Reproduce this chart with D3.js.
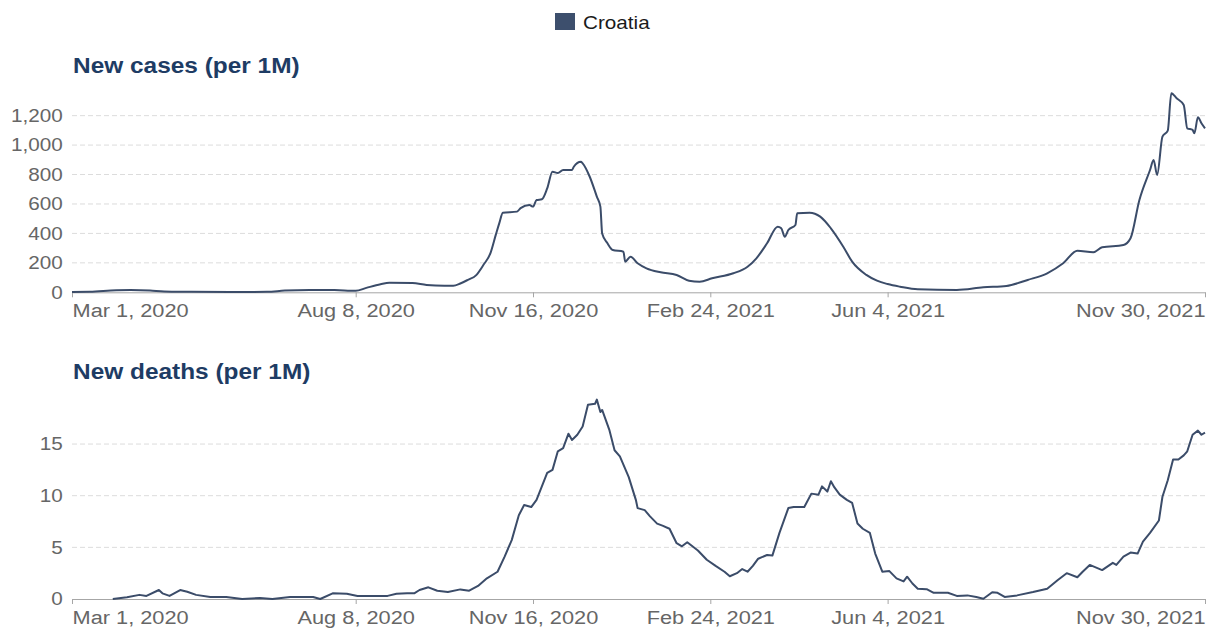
<!DOCTYPE html>
<html>
<head>
<meta charset="utf-8">
<script src="https://cdn.jsdelivr.net/npm/d3@7"></script>
<style>
  html, body { margin: 0; padding: 0; background: #fff; }
  svg { display: block; font-family: "Liberation Sans", Arial, sans-serif; }
</style>
</head>
<body>
<svg id="chart" width="1213" height="633"></svg>
<script>
// ---------- DATA ----------
const country = "Croatia";
const casesTitle = "New cases (per 1M)";
const deathsTitle = "New deaths (per 1M)";

const casesDates = ["2020-03-01","2020-03-11","2020-03-26","2020-04-03","2020-04-14","2020-04-22","2020-05-06","2020-05-29","2020-06-19","2020-06-29","2020-07-13","2020-07-27","2020-08-08","2020-08-14","2020-08-22","2020-08-27","2020-09-09","2020-09-17","2020-09-27","2020-10-02","2020-10-06","2020-10-10","2020-10-15","2020-10-19","2020-10-23","2020-10-26","2020-10-28","2020-10-30","2020-11-07","2020-11-09","2020-11-14","2020-11-16","2020-11-18","2020-11-21","2020-11-24","2020-11-27","2020-11-30","2020-12-03","2020-12-08","2020-12-09","2020-12-13","2020-12-14","2020-12-18","2020-12-22","2020-12-24","2020-12-25","2020-12-28","2020-12-31","2021-01-06","2021-01-07","2021-01-10","2021-01-14","2021-01-19","2021-01-27","2021-02-05","2021-02-12","2021-02-18","2021-02-25","2021-03-09","2021-03-17","2021-03-22","2021-03-28","2021-04-03","2021-04-05","2021-04-07","2021-04-09","2021-04-13","2021-04-14","2021-04-21","2021-04-27","2021-05-03","2021-05-10","2021-05-15","2021-05-23","2021-05-29","2021-06-04","2021-06-11","2021-06-21","2021-07-13","2021-07-28","2021-08-10","2021-08-22","2021-09-02","2021-09-11","2021-09-19","2021-09-28","2021-10-03","2021-10-15","2021-10-19","2021-10-24","2021-10-30","2021-11-01","2021-11-03","2021-11-06","2021-11-09","2021-11-11","2021-11-14","2021-11-18","2021-11-20","2021-11-23","2021-11-24","2021-11-26","2021-11-28","2021-11-30"];
const casesValues = [2,3,14,15,12,6,4,2,3,12,16,15,10,30,55,65,63,50,45,45,60,83,117,185,266,390,470,540,548,572,593,582,627,632,706,819,810,831,831,853,887,876,785,650,582,400,333,287,276,208,242,197,163,136,118,79,72,95,129,174,231,333,446,435,378,423,457,537,541,514,435,310,208,118,79,56,38,20,16,34,43,84,129,197,283,272,306,321,367,627,831,899,797,1057,1098,1352,1318,1272,1114,1103,1080,1189,1148,1114];

const deathsDates = ["2020-03-24","2020-04-01","2020-04-08","2020-04-12","2020-04-19","2020-04-21","2020-04-25","2020-05-01","2020-05-05","2020-05-10","2020-05-18","2020-05-27","2020-06-05","2020-06-15","2020-06-22","2020-07-02","2020-07-15","2020-07-19","2020-07-26","2020-08-03","2020-08-09","2020-08-18","2020-08-26","2020-08-31","2020-09-06","2020-09-10","2020-09-13","2020-09-18","2020-09-23","2020-09-29","2020-10-06","2020-10-11","2020-10-16","2020-10-21","2020-10-27","2020-10-31","2020-11-04","2020-11-08","2020-11-11","2020-11-15","2020-11-18","2020-11-21","2020-11-24","2020-11-27","2020-11-30","2020-12-03","2020-12-06","2020-12-08","2020-12-11","2020-12-14","2020-12-17","2020-12-21","2020-12-22","2020-12-24","2020-12-25","2020-12-29","2021-01-01","2021-01-04","2021-01-09","2021-01-13","2021-01-14","2021-01-18","2021-01-21","2021-01-25","2021-01-28","2021-02-01","2021-02-05","2021-02-08","2021-02-11","2021-02-17","2021-02-22","2021-02-27","2021-03-04","2021-03-07","2021-03-11","2021-03-14","2021-03-17","2021-03-20","2021-03-23","2021-03-28","2021-03-31","2021-04-04","2021-04-09","2021-04-12","2021-04-16","2021-04-18","2021-04-22","2021-04-26","2021-04-28","2021-05-01","2021-05-03","2021-05-05","2021-05-08","2021-05-12","2021-05-15","2021-05-18","2021-05-21","2021-05-25","2021-05-28","2021-06-01","2021-06-05","2021-06-09","2021-06-13","2021-06-15","2021-06-18","2021-06-21","2021-06-26","2021-06-30","2021-07-08","2021-07-13","2021-07-19","2021-07-24","2021-07-28","2021-08-02","2021-08-05","2021-08-09","2021-08-16","2021-08-25","2021-09-02","2021-09-08","2021-09-13","2021-09-19","2021-09-22","2021-09-26","2021-10-03","2021-10-09","2021-10-11","2021-10-15","2021-10-19","2021-10-23","2021-10-26","2021-10-30","2021-11-04","2021-11-06","2021-11-09","2021-11-12","2021-11-15","2021-11-18","2021-11-20","2021-11-23","2021-11-26","2021-11-28","2021-11-30"];
const deathsValues = [0,0.16,0.4,0.3,0.87,0.55,0.3,0.87,0.7,0.4,0.2,0.2,0,0.1,0,0.2,0.2,0,0.55,0.5,0.3,0.3,0.3,0.5,0.55,0.55,0.87,1.13,0.8,0.67,0.93,0.8,1.26,2.0,2.64,4.1,5.7,8.1,9.1,8.9,9.6,10.9,12.2,12.5,14.3,14.6,16.0,15.4,15.9,16.7,18.8,18.9,19.3,18.1,18.3,16.4,14.4,13.8,11.8,9.6,8.8,8.6,8.0,7.3,7.1,6.8,5.4,5.1,5.5,4.7,3.8,3.2,2.64,2.2,2.5,2.9,2.64,3.2,3.9,4.26,4.2,6.4,8.8,8.9,8.9,8.9,10.2,10.1,10.9,10.4,11.4,10.8,10.1,9.6,9.3,7.3,6.8,6.4,4.4,2.64,2.7,2.0,1.7,2.16,1.5,1.0,0.95,0.6,0.6,0.3,0.35,0.2,0.03,0.66,0.6,0.2,0.35,0.67,1.0,1.84,2.5,2.1,2.64,3.3,2.8,3.5,3.3,4.1,4.5,4.4,5.55,6.4,7.6,9.9,11.5,13.5,13.5,13.9,14.3,15.9,16.3,15.9,16.1];

const xTickDates = ["2020-03-01","2020-08-08","2020-11-16","2021-02-24","2021-06-04","2021-11-30"];
const casesYTicks = [0,200,400,600,800,1000,1200];
const deathsYTicks = [0,5,10,15];

// ---------- SETUP ----------
const parse = d3.utcParse("%Y-%m-%d");
const fmtDate = d3.utcFormat("%b %-d, %Y");
const TX = 1.15;   // horizontal text stretch (y labels, legend)
const TXX = 1.21;  // horizontal stretch for date labels
const lineColor = "#3b4c69";
const svg = d3.select("#chart");

const x = d3.scaleUtc()
  .domain([parse("2020-03-01"), parse("2021-11-30")])
  .range([72, 1205]);

// Legend
const legend = svg.append("g");
legend.append("rect").attr("x", 555).attr("y", 13).attr("width", 20).attr("height", 17).attr("fill", "#3d4f6d");
legend.append("text").attr("transform", "translate(583,29) scale(" + TX + ",1)")
  .attr("font-size", 18).attr("fill", "#1a1a1a").text(country);

function panel(title, titleY, dates, values, yTicks, yDomain, yRange, fmtY, curve) {
  const y = d3.scaleLinear().domain(yDomain).range(yRange);
  const g = svg.append("g");

  g.append("text")
    .attr("transform", "translate(73," + titleY + ") scale(1.11,1)")
    .attr("font-size", 22).attr("font-weight", "bold").attr("fill", "#1e3c64")
    .text(title);

  // gridlines
  g.append("g").selectAll("line").data(yTicks.filter(t => t !== 0)).join("line")
    .attr("x1", x.range()[0]).attr("x2", x.range()[1])
    .attr("y1", d => y(d)).attr("y2", d => y(d))
    .attr("stroke", "#dcdcdc").attr("stroke-width", 1).attr("stroke-dasharray", "5,3");

  // y axis
  const ya = g.append("g").attr("transform", "translate(72,0)")
    .call(d3.axisLeft(y).tickValues(yTicks).tickSize(0).tickPadding(8).tickFormat(fmtY));
  ya.select(".domain").remove();
  ya.selectAll("text").attr("font-size", 18).attr("fill", "#666")
    .attr("font-family", "Liberation Sans, Arial, sans-serif")
    .attr("transform", "scale(" + TX + ",1)");

  // x axis
  const xa = g.append("g").attr("transform", "translate(0," + y(0) + ")")
    .call(d3.axisBottom(x).tickValues(xTickDates.map(parse)).tickSize(5).tickSizeOuter(0).tickFormat(fmtDate).tickPadding(7));
  xa.select(".domain").attr("stroke", "#a6a6a6");
  xa.selectAll(".tick line").attr("stroke", "#a6a6a6");
  const n = xTickDates.length;
  xa.selectAll("text").attr("font-size", 18).attr("fill", "#666")
    .attr("font-family", "Liberation Sans, Arial, sans-serif")
    .attr("transform", "scale(" + TXX + ",1)")
    .attr("text-anchor", (d, i) => i === 0 ? "start" : (i === n - 1 ? "end" : "middle"));

  // line
  const data = dates.map((d, i) => ({ date: parse(d), v: values[i] }));
  g.append("path").datum(data)
    .attr("fill", "none").attr("stroke", lineColor).attr("stroke-width", 2)
    .attr("stroke-linejoin", "round")
    .attr("d", d3.line().curve(curve).x(d => x(d.date)).y(d => y(d.v)));
}

panel(casesTitle, 73, casesDates, casesValues, casesYTicks, [0, 1400], [292.3, 86.2], d3.format(","), d3.curveMonotoneX);
panel(deathsTitle, 379, deathsDates, deathsValues, deathsYTicks, [0, 20], [599, 392.4], d3.format("d"), d3.curveLinear);
</script>
</body>
</html>
